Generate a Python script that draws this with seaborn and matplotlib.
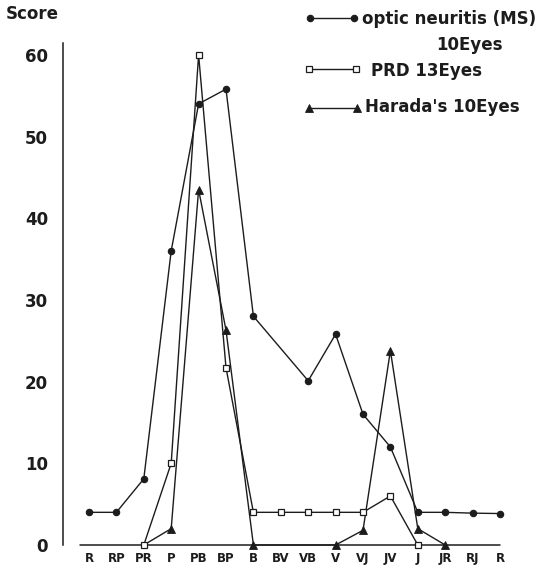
import numpy as np
import pandas as pd
import matplotlib
matplotlib.use("Agg")
import matplotlib.pyplot as plt
import seaborn as sns
from matplotlib.lines import Line2D

# ---------------- data ----------------
categories = ["R", "RP", "PR", "P", "PB", "BP", "B", "BV", "VB", "V",
              "VJ", "JV", "J", "JR", "RJ", "R"]
optic_ms = [4, 4, 8.1, 36, 54, 55.8, 28, np.nan, 20.1, 25.8,
            16, 12, 4, 4, 3.9, 3.85]
prd = [np.nan, np.nan, 0, 10, 60, 21.7, 4, 4, 4, 4,
       4, 6, 0, np.nan, np.nan, np.nan]
harada = [np.nan, np.nan, 0, 2, 43.5, 26.3, 0, np.nan, np.nan, 0,
          1.8, 23.8, 2, 0, np.nan, np.nan]
y_ticks = [0, 10, 20, 30, 40, 50, 60]

series_names = ["optic neuritis (MS)", "PRD", "Harada's"]
legend_lines = ["optic neuritis (MS)", "PRD 13Eyes", "Harada's 10Eyes"]

positions = np.arange(len(categories))
frames = []
for name, vals in zip(series_names, [optic_ms, prd, harada]):
    frames.append(pd.DataFrame({"pos": positions, "score": vals, "series": name}))
df = pd.concat(frames, ignore_index=True).dropna()

# ---------------- figure ----------------
sns.set_style("white")
plt.rcParams["font.family"] = ["DejaVu Sans"]
plt.rcParams["font.weight"] = "bold"

W, H = 537, 570
fig = plt.figure(figsize=(W / 100, H / 100), dpi=100)
ax = fig.add_axes([63.3 / W, 25 / H, (520 - 63.3) / W, 502 / H])

ink = "#1c1c1c"
lw = 1.0

styles = {
    "optic neuritis (MS)": dict(marker="o", ms=4.6, mfc=ink, mec=ink, mew=0.8),
    "PRD": dict(marker="s", ms=4.5, mfc="white", mec=ink, mew=0.9),
    "Harada's": dict(marker="^", ms=5.8, mfc=ink, mec=ink, mew=0.6),
}
order = ["optic neuritis (MS)", "Harada's", "PRD"]
for name in order:
    sub = df[df["series"] == name]
    kw = dict(styles[name])
    if name == "Harada's":
        kw["markevery"] = slice(1, None)
    sns.lineplot(data=sub, x="pos", y="score", ax=ax, color=ink, lw=lw,
                 estimator=None, sort=False, legend=False, clip_on=False,
                 **kw)

x0 = 89.0
step = 27.4
ax.set_xlim((63.3 - x0) / step, (520 - x0) / step)
ax.set_ylim(0, 61.45)

for s in ["top", "right", "bottom"]:
    ax.spines[s].set_visible(False)
ax.spines["left"].set_color(ink)
ax.spines["left"].set_linewidth(1.1)
ax.axhline(0, xmin=(80 - 63.3) / (520 - 63.3), xmax=(500 - 63.3) / (520 - 63.3),
           color=ink, lw=1.1, clip_on=False, zorder=1)

ax.set_xticks(positions)
ax.set_xticklabels(categories, fontsize=8.5, fontweight="bold", color=ink)
ax.set_yticks(y_ticks)
ax.set_yticklabels([str(t) for t in y_ticks], fontsize=12, fontweight="bold", color=ink)
ax.tick_params(axis="x", length=0, pad=5)
ax.tick_params(axis="y", direction="in", length=5, width=1.0, color=ink, pad=11)
ax.set_xlabel("")
ax.set_ylabel("")
ax.grid(False)

def fx(px):
    return px / W

def fy(py):
    return 1 - py / H

fig.text(fx(6), fy(19.3), "Score", fontsize=12, fontweight="bold", color=ink,
         ha="left", va="baseline")

# legend (drawn in figure coordinates)
handles = [
    (310, 354, 18.3, styles["optic neuritis (MS)"]),
    (309, 356, 69.3, styles["PRD"]),
    (309, 357, 108.3, styles["Harada's"]),
]
for (xa, xb, yy, st) in handles:
    fig.add_artist(Line2D([fx(xa), fx(xb)], [fy(yy), fy(yy)],
                          transform=fig.transFigure, color=ink, lw=lw, **st))

fig.text(fx(362), fy(24), legend_lines[0], fontsize=12, fontweight="bold",
         color=ink, ha="left", va="baseline")
fig.text(fx(436), fy(50), "10Eyes", fontsize=12, fontweight="bold",
         color=ink, ha="left", va="baseline")
fig.text(fx(371), fy(76), legend_lines[1], fontsize=12, fontweight="bold",
         color=ink, ha="left", va="baseline")
fig.text(fx(365), fy(111.7), legend_lines[2], fontsize=12, fontweight="bold",
         color=ink, ha="left", va="baseline")

fig.savefig("out.png", dpi=100, facecolor="white")
